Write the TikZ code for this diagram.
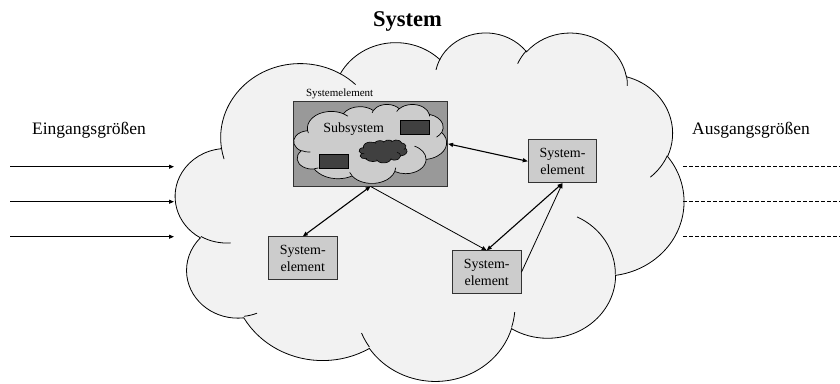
\documentclass[tikz,border=0pt]{standalone}
\usepackage{fontspec}
\setmainfont{Liberation Serif}
\usetikzlibrary{arrows.meta}

\definecolor{cloudfill}{HTML}{F2F2F2}
\definecolor{subgray}{HTML}{999999}
\definecolor{lightgray}{HTML}{CCCCCC}
\definecolor{darkgray}{HTML}{404040}
\definecolor{edgegray}{HTML}{333333}

% Parametric start angle and sweep of an elliptic arc given by its
% visual start angle and visual sweep (angles measured with y downwards).
\newcommand\setcloudarc[5]{%
  \pgfmathsetmacro\cldTmpS{atan2((#2)*sin(#4),(#3)*cos(#4))}%
  \pgfmathsetmacro\cldTmpE{atan2((#2)*sin((#4)+(#5)),(#3)*cos((#4)+(#5)))}%
  \pgfmathsetmacro\cldTmpD{mod(\cldTmpE-\cldTmpS+720,360)}%
  \expandafter\let\csname cldS#1\endcsname\cldTmpS
  \expandafter\let\csname cldD#1\endcsname\cldTmpD
}
% outline lobes
\setcloudarc{a}{67.53}{91.90}{-190.48748}{123.78053}
\setcloudarc{b}{53.33}{72.67}{-144.10238}{89.94523}
\setcloudarc{c}{43.65}{59.45}{-145.80792}{99.72302}
\setcloudarc{d}{48.57}{65.95}{-130.98607}{117.24173}
\setcloudarc{e}{53.33}{72.73}{-78.70888}{109.02692}
\setcloudarc{f}{67.75}{92.20}{-46.26725}{130.26900}
\setcloudarc{g}{57.85}{78.67}{0.62502}{114.03333}
\setcloudarc{h}{67.52}{92.15}{22.45160}{115.17255}
\setcloudarc{i}{77.20}{105.43}{66.24263}{75.71102}
\setcloudarc{j}{43.60}{59.18}{-274.94208}{146.73557}
\setcloudarc{k}{43.45}{59.45}{-246.82850}{152.51885}
% inner lobe hints
\setcloudarc{pa}{43.45}{59.45}{86.74200}{26.42950}
\setcloudarc{pb}{43.60}{59.18}{73.61047}{11.44747}
\setcloudarc{pc}{67.52}{92.15}{137.62415}{14.08110}
\setcloudarc{pd}{67.52}{92.15}{6.45327}{15.99835}
\setcloudarc{pe}{57.85}{78.67}{-70.29235}{70.91737}
\setcloudarc{pf}{53.33}{72.73}{30.31803}{27.75150}
\setcloudarc{pg}{48.57}{65.95}{-13.74433}{14.85890}
\setcloudarc{ph}{48.57}{65.95}{-149.18145}{18.19537}
\setcloudarc{pi}{43.65}{59.45}{-163.49427}{17.68635}
\setcloudarc{pj}{67.53}{91.90}{-66.70695}{12.31935}
\setcloudarc{pk}{67.53}{91.90}{157.65435}{11.85817}

% Cloud in a 432 x 432 box; #1 = outline style, #2 = inner arcs style
\newcommand\drawcloud[2]{%
  \path[#1] (39.00,143.70)
    arc[start angle=\cldSa, delta angle=\cldDa, x radius=67.53, y radius=91.90]
    arc[start angle=\cldSb, delta angle=\cldDb, x radius=53.33, y radius=72.67]
    arc[start angle=\cldSc, delta angle=\cldDc, x radius=43.65, y radius=59.45]
    arc[start angle=\cldSd, delta angle=\cldDd, x radius=48.57, y radius=65.95]
    arc[start angle=\cldSe, delta angle=\cldDe, x radius=53.33, y radius=72.73]
    arc[start angle=\cldSf, delta angle=\cldDf, x radius=67.75, y radius=92.20]
    arc[start angle=\cldSg, delta angle=\cldDg, x radius=57.85, y radius=78.67]
    arc[start angle=\cldSh, delta angle=\cldDh, x radius=67.52, y radius=92.15]
    arc[start angle=\cldSi, delta angle=\cldDi, x radius=77.20, y radius=105.43]
    arc[start angle=\cldSj, delta angle=\cldDj, x radius=43.60, y radius=59.18]
    arc[start angle=\cldSk, delta angle=\cldDk, x radius=43.45, y radius=59.45]
    -- cycle;
  \path[#2]
    (46.93,261.77) arc[start angle=\cldSpa, delta angle=\cldDpa, x radius=43.45, y radius=59.45]
    (69.28,348.99) arc[start angle=\cldSpb, delta angle=\cldDpb, x radius=43.60, y radius=59.18]
    (164.78,390.90) arc[start angle=\cldSpc, delta angle=\cldDpc, x radius=67.52, y radius=92.15]
    (288.27,347.51) arc[start angle=\cldSpd, delta angle=\cldDpd, x radius=67.52, y radius=92.15]
    (341.29,229.54) arc[start angle=\cldSpe, delta angle=\cldDpe, x radius=57.85, y radius=78.67]
    (417.98,153.54) arc[start angle=\cldSpf, delta angle=\cldDpf, x radius=53.33, y radius=72.73]
    (383.24,54.26) arc[start angle=\cldSpg, delta angle=\cldDpg, x radius=48.57, y radius=65.95]
    (290.78,39.52) arc[start angle=\cldSph, delta angle=\cldDph, x radius=48.57, y radius=65.95]
    (221.41,47.20) arc[start angle=\cldSpi, delta angle=\cldDpi, x radius=43.65, y radius=59.45]
    (140.00,51.92) arc[start angle=\cldSpj, delta angle=\cldDpj, x radius=67.53, y radius=91.90]
    (41.27,157.89) arc[start angle=\cldSpk, delta angle=\cldDpk, x radius=67.53, y radius=91.90];
}

\tikzset{
  tip/.tip={Triangle[length=5pt,width=4pt]},
  elembox/.style={draw=edgegray, fill=lightgray, line width=0.8pt,
    minimum width=68.6pt, minimum height=43pt, inner sep=0pt, align=center,
    font=\fontsize{14}{16.7}\selectfont},
  sidelabel/.style={font=\fontsize{17.5}{20}\selectfont, anchor=base},
  inarrow/.style={line width=0.9pt, -tip},
  outline/.style={line width=0.9pt, dash pattern=on 3.5pt off 2.5pt},
  onelink/.style={line width=0.8pt, -tip},
  twolink/.style={line width=1.1pt, tip-tip},
  darkbox/.style={fill=darkgray, draw=black, line width=0.6pt},
}

\begin{document}
\begin{tikzpicture}[x=1pt, y=-1pt]
\useasboundingbox (0,0) rectangle (840,383);
\fill[white] (0,0) rectangle (840,383);

% the system cloud
\begin{scope}[shift={(175.5,31.8)}]
\begin{scope}[x=1.1767pt, y=-0.8064pt]
  \drawcloud{fill=cloudfill, draw=black, line width=0.8pt}{draw=black, line width=0.8pt}
\end{scope}
\end{scope}

\node[font=\fontsize{22.5}{26}\selectfont\bfseries, anchor=base] (title) at (407.5,26.8) {System};

% inputs and outputs
\node[sidelabel] (inlabel) at (89,134) {Eingangsgrößen};
\node[sidelabel] (outlabel) at (751,134) {Ausgangsgrößen};
\foreach \k/\yy in {1/166.7, 2/201.7, 3/236.7} {
  \coordinate (in\k a) at (10,\yy);
  \coordinate (in\k b) at (174,\yy);
  \coordinate (out\k a) at (683,\yy);
  \coordinate (out\k b) at (840,\yy);
  \draw[inarrow] (in\k a) -- (in\k b);
  \draw[outline] (out\k a) -- (out\k b);
}

% system element holding a subsystem
\node[draw=edgegray, fill=subgray, line width=0.8pt, minimum width=154.4pt,
  minimum height=84.3pt, inner sep=0pt] (sub) at (370.5,143.85) {};
\node[font=\fontsize{11}{13}\selectfont, anchor=base west] (sublabel) at (302.5,96) {Systemelement};
\begin{scope}[shift={(293.8,104.2)}]
\begin{scope}[x=0.3537pt, y=-0.1828pt]
  \drawcloud{fill=lightgray, draw=black, line width=0.7pt}{draw=black, line width=0.7pt}
\end{scope}
\end{scope}
\node[font=\fontsize{14}{16}\selectfont, anchor=base] (subname) at (353.7,132.3) {Subsystem};
\draw[darkbox] (400,120) rectangle (429,134.3);
\draw[darkbox] (319.3,154) rectangle (348.3,168.3);
\begin{scope}[shift={(359.1,139.9)}]
\begin{scope}[x=0.111pt, y=-0.0532pt]
  \drawcloud{fill=darkgray, draw=black, line width=0.6pt}{draw=black, line width=0.5pt}
\end{scope}
\end{scope}

% further system elements
\node[elembox] (e1) at (562.5,161.3) {System-\\element};
\node[elembox] (e2) at (302.8,258.3) {System-\\element};
\node[elembox] (e3) at (486.7,272.3) {System-\\element};

% relations
\draw[twolink] (sub.east) -- (e1.west);
\draw[twolink] (sub.south) -- (e2.north);
\draw[onelink] (sub.south) -- (e3.north);
\draw[twolink] (e1.south) -- (e3.north);
\draw[onelink] (e3.east) -- (e1.south);
\end{tikzpicture}
\end{document}
